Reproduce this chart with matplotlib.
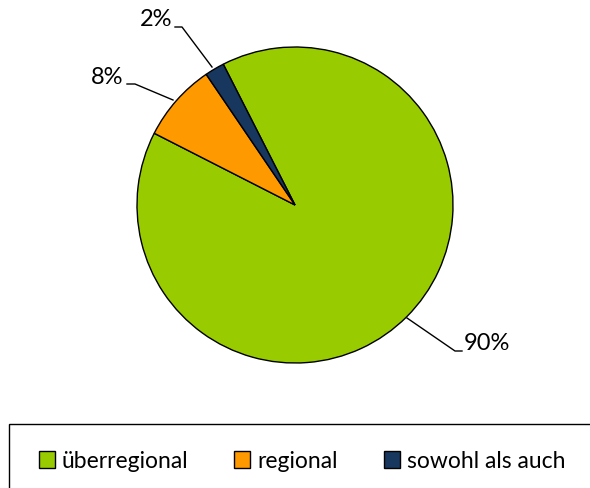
import matplotlib
matplotlib.use("Agg")
import matplotlib.pyplot as plt
from matplotlib.patches import Rectangle, Patch

plt.rcParams['font.family'] = ['Lato', 'DejaVu Sans']

categories = ['überregional', 'regional', 'sowohl als auch']
shares = [90, 8, 2]
pct_labels = ['90%', '8%', '2%']
colors = ['#99CC00', '#FF9900', '#17375E']

W, H = 590, 488
fig = plt.figure(figsize=(W / 100, H / 100), dpi=100)

# pie axes: center (295,205) px, radius 158 px
cx, cy, r = 295, 205, 158
ax = fig.add_axes([(cx - r) / W, (H - cy - r) / H, 2 * r / W, 2 * r / H])
ax.pie(shares, colors=colors, startangle=117, counterclock=False, radius=1,
       wedgeprops=dict(edgecolor='black', linewidth=1))
ax.set_xlim(-1, 1)
ax.set_ylim(-1, 1)
ax.set_aspect('equal')
ax.axis('off')


def px(x, y):
    return ((x - cx) / r, (cy - y) / r)


# leader lines (pixel points) and label positions
leaders = {
    '90%': [(407, 318), (455, 351), (462, 351)],
    '8%': [(173, 100), (135, 84), (127, 84)],
    '2%': [(212, 67), (182, 27), (175, 27)],
}
label_pos = {'90%': (464, 344, 'left'), '8%': (123, 77, 'right'), '2%': (172, 20, 'right')}

for lab in pct_labels:
    pts = [px(*p) for p in leaders[lab]]
    ax.plot([p[0] for p in pts], [p[1] for p in pts], color='black', lw=1, clip_on=False)
    x, y, ha = label_pos[lab]
    tx, ty = px(x, y)
    ax.text(tx, ty, lab, ha=ha, va='center', fontsize=17, clip_on=False)

# legend frame, running off the right and bottom edges
fig.patches.append(Rectangle((9 / W, -0.1), 1, (H - 424) / H + 0.1, transform=fig.transFigure,
                             facecolor='white', edgecolor='black', lw=1, clip_on=False))

handles = [Patch(facecolor=c, edgecolor='black', lw=1) for c in colors]
fig.legend(handles, categories, loc='center', bbox_to_anchor=(302 / W, (H - 461) / H),
           ncol=3, frameon=False, fontsize=16.5, handlelength=0.7, handleheight=0.7,
           handletextpad=0.3, columnspacing=2.0)

fig.savefig('out.png', dpi=100)
